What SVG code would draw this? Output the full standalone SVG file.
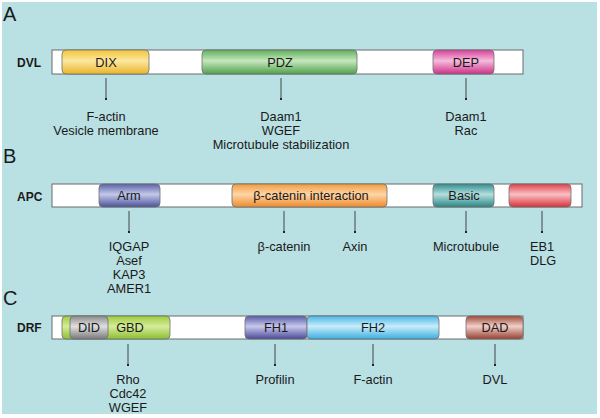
<svg xmlns="http://www.w3.org/2000/svg" width="600" height="418" viewBox="0 0 600 418">
<defs>
<linearGradient id="gY" x1="0" y1="0" x2="0" y2="1"><stop offset="0" stop-color="#f2c53a"/><stop offset="0.45" stop-color="#fbe7a0"/><stop offset="1" stop-color="#eab52a"/></linearGradient>
<linearGradient id="gG" x1="0" y1="0" x2="0" y2="1"><stop offset="0" stop-color="#5fb05a"/><stop offset="0.45" stop-color="#c6e6bf"/><stop offset="1" stop-color="#4fa24a"/></linearGradient>
<linearGradient id="gM" x1="0" y1="0" x2="0" y2="1"><stop offset="0" stop-color="#d8409a"/><stop offset="0.45" stop-color="#f5bcdc"/><stop offset="1" stop-color="#cc3088"/></linearGradient>
<linearGradient id="gB" x1="0" y1="0" x2="0" y2="1"><stop offset="0" stop-color="#5a62a8"/><stop offset="0.45" stop-color="#c3c8e8"/><stop offset="1" stop-color="#4a529a"/></linearGradient>
<linearGradient id="gO" x1="0" y1="0" x2="0" y2="1"><stop offset="0" stop-color="#f39a3c"/><stop offset="0.45" stop-color="#fdd6a8"/><stop offset="1" stop-color="#ee8a2a"/></linearGradient>
<linearGradient id="gT" x1="0" y1="0" x2="0" y2="1"><stop offset="0" stop-color="#2f8f8f"/><stop offset="0.45" stop-color="#b5dede"/><stop offset="1" stop-color="#2a8585"/></linearGradient>
<linearGradient id="gR" x1="0" y1="0" x2="0" y2="1"><stop offset="0" stop-color="#e0404a"/><stop offset="0.45" stop-color="#f9c0c4"/><stop offset="1" stop-color="#d8303a"/></linearGradient>
<linearGradient id="gL" x1="0" y1="0" x2="0" y2="1"><stop offset="0" stop-color="#9ccc3a"/><stop offset="0.45" stop-color="#d6ec9c"/><stop offset="1" stop-color="#8cc030"/></linearGradient>
<linearGradient id="gS" x1="0" y1="0" x2="0" y2="1"><stop offset="0" stop-color="#8a8a8a"/><stop offset="0.45" stop-color="#e0e0e0"/><stop offset="1" stop-color="#7a7a7a"/></linearGradient>
<linearGradient id="gP" x1="0" y1="0" x2="0" y2="1"><stop offset="0" stop-color="#5a5aa8"/><stop offset="0.45" stop-color="#c8c8ec"/><stop offset="1" stop-color="#4a4a98"/></linearGradient>
<linearGradient id="gC" x1="0" y1="0" x2="0" y2="1"><stop offset="0" stop-color="#4ab8e8"/><stop offset="0.45" stop-color="#c8ecfa"/><stop offset="1" stop-color="#3aaee0"/></linearGradient>
<linearGradient id="gD" x1="0" y1="0" x2="0" y2="1"><stop offset="0" stop-color="#a04a3a"/><stop offset="0.45" stop-color="#f0d0c8"/><stop offset="1" stop-color="#984032"/></linearGradient>
<marker id="dot" viewBox="0 0 4 4" refX="2" refY="2" markerWidth="2.5" markerHeight="2.5" markerUnits="userSpaceOnUse"><circle cx="2" cy="2" r="2" fill="#222"/></marker>
</defs>
<style>
text{font-family:"Liberation Sans",Arial,sans-serif;font-size:12.8px;fill:#1a1a1a}
.lab{font-size:20px;fill:#1a1a1a}
.prot{font-weight:bold;font-size:12px}
.bar{fill:#ffffff;stroke:#6a6a6a;stroke-width:1}
.dom{stroke:#707070;stroke-width:0.8}
.dt{text-anchor:middle;font-size:12.8px}
.t{text-anchor:middle}
.arr line{stroke:#333;stroke-width:0.9;marker-end:url(#dot)}
</style>
<rect x="2" y="2" width="595" height="412" fill="#b9e0e3"/>

<text class="lab" x="3" y="21">A</text>
<text class="lab" x="3" y="163">B</text>
<text class="lab" x="3" y="305">C</text>

<g id="dvl">
<text class="prot" x="17" y="67">DVL</text>
<rect class="bar" x="52" y="50" width="471" height="24"/>
<g id="dix"><rect class="dom" x="62" y="50" width="87" height="24" rx="4" fill="url(#gY)"/><text class="dt" x="106" y="67">DIX</text></g>
<g id="pdz"><rect class="dom" x="202" y="50" width="155" height="24" rx="4" fill="url(#gG)"/><text class="dt" x="280" y="67">PDZ</text></g>
<g id="dep"><rect class="dom" x="433" y="50" width="61" height="24" rx="4" fill="url(#gM)"/><text class="dt" x="466" y="67">DEP</text></g>
<text class="t" x="106" y="121">F-actin</text>
<text class="t" x="106" y="135">Vesicle membrane</text>
<text class="t" x="281" y="121">Daam1</text>
<text class="t" x="281" y="135">WGEF</text>
<text class="t" x="281" y="149">Microtubule stabilization</text>
<text class="t" x="466" y="121">Daam1</text>
<text class="t" x="466" y="135">Rac</text>
</g>

<g id="apc">
<text class="prot" x="17" y="201">APC</text>
<rect class="bar" x="52" y="184" width="530" height="23"/>
<g id="arm"><rect class="dom" x="99" y="184" width="61" height="23" rx="4" fill="url(#gB)"/><text class="dt" x="129" y="200">Arm</text></g>
<g id="bcat"><rect class="dom" x="232" y="184" width="155" height="23" rx="4" fill="url(#gO)"/><text class="dt" x="311" y="200">β-catenin interaction</text></g>
<g id="basic"><rect class="dom" x="433" y="184" width="61" height="23" rx="4" fill="url(#gT)"/><text class="dt" x="464" y="200">Basic</text></g>
<g id="red"><rect class="dom" x="509" y="184" width="62" height="23" rx="4" fill="url(#gR)"/></g>
<text class="t" x="129" y="251">IQGAP</text>
<text class="t" x="129" y="265">Asef</text>
<text class="t" x="129" y="279">KAP3</text>
<text class="t" x="129" y="293">AMER1</text>
<text class="t" x="284" y="251">β-catenin</text>
<text class="t" x="355" y="251">Axin</text>
<text class="t" x="466" y="251">Microtubule</text>
<text x="530" y="251">EB1</text>
<text x="530" y="265">DLG</text>
</g>

<g id="drf">
<text class="prot" x="17" y="332">DRF</text>
<rect class="bar" x="52" y="316" width="471" height="23"/>
<g id="gbd"><rect class="dom" x="62" y="316" width="108" height="23" rx="4" fill="url(#gL)"/><text class="dt" x="130" y="332">GBD</text></g>
<g id="did"><rect class="dom" x="70" y="316" width="38" height="23" rx="4" fill="url(#gS)"/><text class="dt" x="89" y="332">DID</text></g>
<g id="fh1"><rect class="dom" x="245" y="316" width="62" height="23" rx="4" fill="url(#gP)"/><text class="dt" x="276" y="332">FH1</text></g>
<g id="fh2"><rect class="dom" x="307" y="316" width="132" height="23" rx="4" fill="url(#gC)"/><text class="dt" x="373" y="332">FH2</text></g>
<g id="dad"><rect class="dom" x="466" y="316" width="57" height="23" rx="4" fill="url(#gD)"/><text class="dt" x="495" y="332">DAD</text></g>
<text class="t" x="128" y="384">Rho</text>
<text class="t" x="128" y="398">Cdc42</text>
<text class="t" x="128" y="412">WGEF</text>
<text class="t" x="275" y="384">Profilin</text>
<text class="t" x="373" y="384">F-actin</text>
<text class="t" x="495" y="384">DVL</text>
</g>

<g id="connectors" class="arr">
<line x1="106" y1="78" x2="106" y2="99"/>
<line x1="281" y1="78" x2="281" y2="99"/>
<line x1="466" y1="78" x2="466" y2="99"/>
<line x1="129" y1="211" x2="129" y2="232"/>
<line x1="284" y1="211" x2="284" y2="232"/>
<line x1="355" y1="211" x2="355" y2="232"/>
<line x1="466" y1="211" x2="466" y2="232"/>
<line x1="542" y1="211" x2="542" y2="232"/>
<line x1="128" y1="344" x2="128" y2="365"/>
<line x1="275" y1="344" x2="275" y2="365"/>
<line x1="373" y1="344" x2="373" y2="365"/>
<line x1="495" y1="344" x2="495" y2="365"/>
</g>
</svg>
